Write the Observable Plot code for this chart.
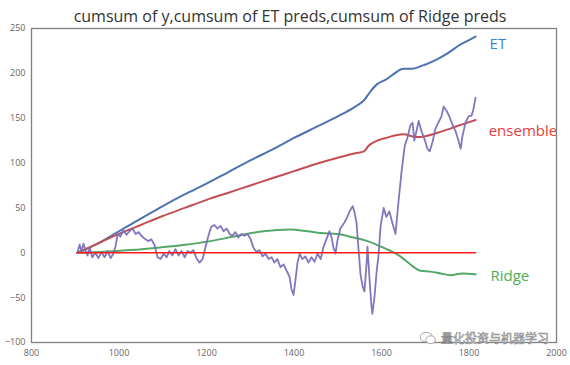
<!DOCTYPE html>
<html>
<head>
<meta charset="utf-8">
<script src="https://cdn.jsdelivr.net/npm/d3@7"></script>
<script src="https://cdn.jsdelivr.net/npm/@observablehq/plot@0.6"></script>
<style>
  html, body { margin: 0; padding: 0; background: #fff; }
  #wrap { position: relative; width: 570px; height: 365px; }
  #wm { position: absolute; left: 418px; top: 331px; display: flex; align-items: center; gap: 3px;
        font-family: "Noto Sans CJK SC"; font-size: 12px; line-height: 12px; color: #fff;
        -webkit-text-stroke: 0.6px #8a8a8a; }
</style>
</head>
<body>
<div id="wrap"></div>
<script>
const titleText = "cumsum of y,cumsum of ET preds,cumsum of Ridge preds";
const xTicks = [800, 1000, 1200, 1400, 1600, 1800, 2000];
const yTicks = [-100, -50, 0, 50, 100, 150, 200, 250];
const watermark = "量化投资与机器学习";

// cumsum of y (purple)
const yX = [905,910,914,919,923,928,933,939,946,953,960,967,974,981,987,992,997,1003,1010,1017,1024,1031,1038,1045,1051,1058,1067,1074,1081,1088,1095,1102,1109,1115,1122,1129,1136,1143,1150,1157,1163,1170,1177,1184,1191,1198,1205,1211,1218,1225,1232,1239,1246,1253,1259,1266,1273,1280,1287,1294,1301,1307,1314,1321,1328,1335,1342,1349,1355,1362,1369,1376,1383,1390,1394,1399,1403,1408,1413,1419,1426,1433,1440,1447,1454,1461,1467,1474,1481,1486,1490,1495,1499,1506,1513,1520,1527,1534,1538,1543,1547,1552,1557,1561,1566,1568,1573,1577,1579,1584,1589,1593,1598,1605,1611,1618,1625,1632,1639,1646,1653,1659,1666,1671,1675,1680,1685,1691,1698,1705,1710,1717,1723,1730,1737,1742,1749,1755,1762,1769,1776,1781,1785,1792,1799,1806,1810,1815];
const yVals = [0,9,2,10,3,-3,6,-5,0,-6,1,-5,2,-6,-1,7,21,18,25,20,24,27,21,23,19,16,13,15,9,-5,-7,-1,-5,2,-3,4,-3,2,-5,2,0,3,-6,-11,-7,7,20,29,31,27,30,24,27,21,19,23,17,21,19,21,15,6,1,3,-4,-1,-7,-5,-11,-7,-16,-13,-20,-27,-40,-47,-32,-11,-1,-7,-4,-11,-5,-10,-1,-7,6,15,24,17,6,-1,13,27,32,38,46,52,46,33,7,-24,-38,-43,-11,7,-32,-59,-68,-49,-20,-4,30,50,40,46,33,21,58,91,119,128,142,145,125,136,147,136,127,116,113,124,138,145,152,163,158,152,143,136,125,116,130,145,152,153,160,173];

// cumsum of ET preds (blue)
const etX = [905,950,1000,1050,1100,1150,1200,1250,1300,1350,1400,1450,1500,1540,1560,1575,1590,1610,1630,1650,1670,1690,1720,1750,1780,1800,1815];
const etVals = [0,10,24,38,52,65,77,90,103,115,128,140,152,163,170,180,188,193,200,205,205,208,214,222,232,237,241];

// ensemble (red)
const ensX = [905,950,1000,1050,1100,1150,1200,1250,1300,1350,1400,1450,1500,1540,1560,1570,1590,1610,1650,1680,1700,1730,1760,1790,1815];
const ensVals = [0,10,21,31,41,50,59,67,75,83,91,99,106,111,113,119,125,128,132,129,130,134,139,144,148];

// cumsum of Ridge preds (green)
const ridgeX = [905,958,1026,1095,1152,1209,1271,1330,1392,1431,1461,1499,1536,1568,1598,1621,1643,1666,1689,1712,1735,1758,1785,1815];
const ridgeVals = [0,1,3,6,9,13,19,24,26,24,22,21,17,13,7,2,-4,-13,-20,-21,-23,-25,-23,-24];

// zero reference line
const zeroX = [905, 1815];
const zeroVals = [0, 0];

const toRows = (xs, vs) => xs.map((x, i) => ({x, v: vs[i]}));

const labels = [
  {x: etX.at(-1) + 32, v: etVals.at(-1) - 9, t: "ET", c: "#3f7fcc"},
  {x: ensX.at(-1) + 30, v: ensVals.at(-1) - 12, t: "ensemble", c: "#e8403c"},
  {x: ridgeX.at(-1) + 34, v: ridgeVals.at(-1) - 2, t: "Ridge", c: "#4caf55"}
];

const chart = Plot.plot({
  width: 570,
  height: 365,
  marginTop: 28,
  marginBottom: 23,
  marginLeft: 31,
  marginRight: 14,
  style: {fontFamily: "Open Sans", fontSize: "9px", color: "#666", background: "#fff"},
  x: {domain: [800, 2000], ticks: xTicks, tickSize: 0, tickPadding: 7, label: null, tickFormat: d => String(d)},
  y: {domain: [-100, 250], ticks: yTicks, tickSize: 0, tickPadding: 6, label: null},
  marks: [
    Plot.line(toRows(etX, etVals), {x: "x", y: "v", stroke: "#4C72B0", strokeWidth: 2, curve: "monotone-x"}),
    Plot.line(toRows(ensX, ensVals), {x: "x", y: "v", stroke: "#C44E52", strokeWidth: 2, curve: "monotone-x"}),
    Plot.line(toRows(ridgeX, ridgeVals), {x: "x", y: "v", stroke: "#55A868", strokeWidth: 2, curve: "monotone-x"}),
    Plot.line(toRows(yX, yVals), {x: "x", y: "v", stroke: "#7b6fb8", strokeWidth: 1.8, strokeOpacity: 0.95}),
    Plot.line(toRows(zeroX, zeroVals), {x: "x", y: "v", stroke: "#ff1a1a", strokeWidth: 1.6}),
    Plot.text(labels, {x: "x", y: "v", text: "t", fill: "c", fontSize: 15, textAnchor: "start", fontFamily: "Open Sans"}),
    Plot.frame({stroke: "#808080", strokeWidth: 1.3}),
    Plot.text([titleText], {frameAnchor: "top", dy: -18, dx: -4, fontSize: 16, fill: "#333", fontFamily: "Open Sans"})
  ]
});

const wrap = document.getElementById("wrap");
wrap.appendChild(chart);
const wm = document.createElement("div");
wm.id = "wm";
wm.innerHTML = '<svg width="20" height="14" viewBox="0 0 20 16"><ellipse cx="8" cy="7" rx="7" ry="5.5" fill="#fff" stroke="#999" stroke-width="1"/><ellipse cx="13" cy="10" rx="5.5" ry="4.5" fill="#fff" stroke="#999" stroke-width="1"/></svg><span></span>';
wm.querySelector("span").textContent = watermark;
wrap.appendChild(wm);
</script>
</body>
</html>
